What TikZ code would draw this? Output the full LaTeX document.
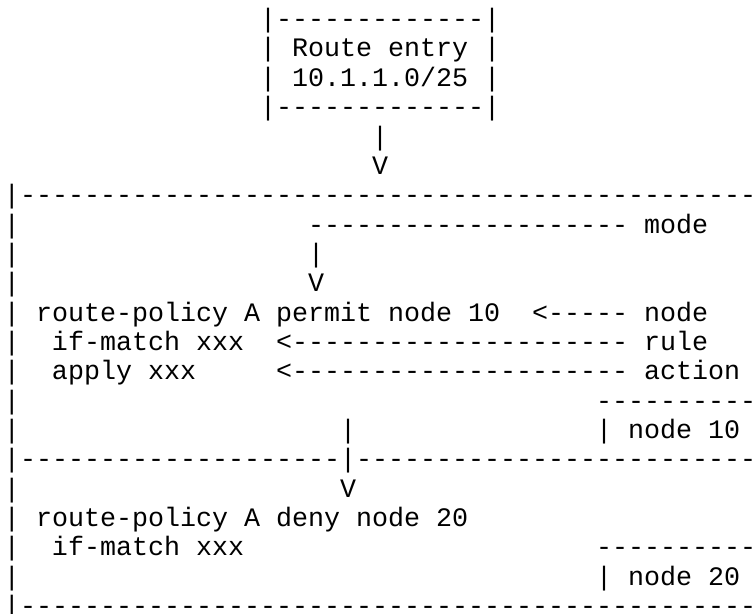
\documentclass[tikz,border=0pt]{standalone}
\usepackage{fontspec}
\setmonofont{Liberation Mono}
\newcommand\dsh[1]{\foreach\k in {1,...,#1}{-}}
\tikzset{
  txt/.style={anchor=base west,inner sep=0pt,outer sep=0pt,
    font=\fontsize{26.67pt}{29.35pt}\selectfont\ttfamily}
}
\begin{document}
\begin{tikzpicture}[x=16pt,y=-29.35pt]
\useasboundingbox[fill=white] (-0.25,-0.9404) rectangle (47,19.979);
\clip (-0.25,-0.9404) rectangle (47,19.979);
% route entry box
\node[txt] (e0) at (16,0) {|\dsh{13}|};
\node[txt] (e1) at (16,1) {| Route entry |};
\node[txt] (e2) at (16,2) {| 10.1.1.0/25 |};
\node[txt] (e3) at (16,3) {|\dsh{13}|};
\node[txt] (a4) at (23,4) {|};
\node[txt] (a5) at (23,5) {V};
% node 10 block
\node[txt] (r6) at (0,6) {|\dsh{46}};
\node[txt] (r7a) at (0,7) {|};
\node[txt] (r7b) at (19,7) {\dsh{20}};
\node[txt] (mode) at (40,7) {mode};
\node[txt] (r8a) at (0,8) {|};
\node[txt] (r8b) at (19,8) {|};
\node[txt] (r9a) at (0,9) {|};
\node[txt] (r9b) at (19,9) {V};
\node[txt] (r10a) at (0,10) {| route-policy A permit node 10};
\node[txt] (r10b) at (33,10) {<\dsh{5}};
\node[txt] (nodelbl) at (40,10) {node};
\node[txt] (r11a) at (0,11) {|};
\node[txt] (r11b) at (3,11) {if-match xxx};
\node[txt] (r11c) at (17,11) {<\dsh{21}};
\node[txt] (rule) at (40,11) {rule};
\node[txt] (r12a) at (0,12) {|};
\node[txt] (r12b) at (3,12) {apply xxx};
\node[txt] (r12c) at (17,12) {<\dsh{21}};
\node[txt] (action) at (40,12) {action};
\node[txt] (r13a) at (0,13) {|};
\node[txt] (r13b) at (37,13) {\dsh{10}};
\node[txt] (r14a) at (0,14) {|};
\node[txt] (r14b) at (21,14) {|};
\node[txt] (n10) at (37,14) {| node 10};
\node[txt] (r15) at (0,15) {|\dsh{20}|\dsh{25}};
% node 20 block
\node[txt] (r16a) at (0,16) {|};
\node[txt] (r16b) at (21,16) {V};
\node[txt] (r17) at (0,17) {| route-policy A deny node 20};
\node[txt] (r18a) at (0,18) {|};
\node[txt] (r18b) at (3,18) {if-match xxx};
\node[txt] (r18c) at (37,18) {\dsh{10}};
\node[txt] (r19a) at (0,19) {|};
\node[txt] (n20) at (37,19) {| node 20};
\node[txt] (r20) at (0,20) {|\dsh{46}};
\end{tikzpicture}
\end{document}
